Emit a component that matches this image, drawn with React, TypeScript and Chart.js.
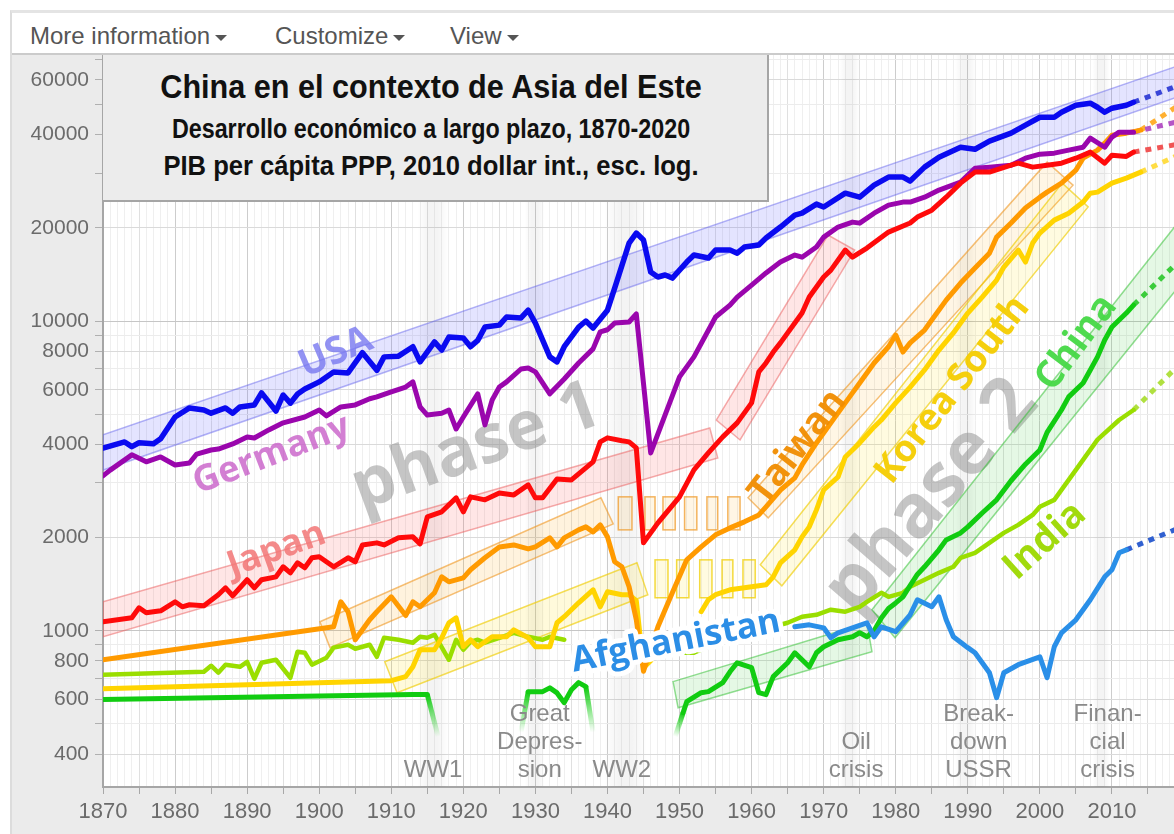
import React, { useEffect, useRef } from 'react';
import { Chart, registerables } from 'chart.js';

Chart.register(...registerables);

type Pt = [number, number | null];

// ---------- axis ticks ----------
const xFirstYear = 1870;
const xLastYear = 2020;
const xTickYears: number[] = [];
for (let y = xFirstYear; y <= xLastYear; y++) xTickYears.push(y);
const xLabelYears = [1870, 1880, 1890, 1900, 1910, 1920, 1930, 1940, 1950, 1960, 1970, 1980, 1990, 2000, 2010];
const yLabeledTicks = [400, 600, 800, 1000, 2000, 4000, 6000, 8000, 10000, 20000, 40000, 60000];
const yMinorTicks = [500, 700, 900, 3000, 5000, 7000, 9000, 30000, 50000, 70000];
const yMin = 313;
const yMax = 72250;

// ---------- series (year, GDP per capita) ----------
const usa: Pt[] = [
  [1870, 3890], [1873, 4070], [1874, 3930], [1875, 4045], [1877, 4015], [1878, 4170], [1880, 4900],
  [1882, 5240], [1884, 5160], [1885, 5040], [1887, 5240], [1888, 5040], [1889, 5280], [1891, 5360],
  [1892, 5860], [1894, 5120], [1895, 5770], [1896, 5430], [1897, 5810], [1898, 6030], [1900, 6360],
  [1902, 6850], [1904, 6800], [1906, 7900], [1908, 6930], [1909, 7660], [1911, 7700], [1913, 8260],
  [1914, 7380], [1916, 8560], [1917, 8060], [1918, 8880], [1920, 8820], [1921, 8260], [1922, 8660],
  [1923, 9560], [1925, 9700], [1926, 10300], [1928, 10230], [1929, 10840], [1930, 9850], [1932, 7660],
  [1933, 7380], [1934, 8260], [1936, 9560], [1937, 10000], [1938, 9490], [1940, 10840], [1941, 12770],
  [1943, 17850], [1944, 19230], [1945, 18250], [1946, 14390], [1947, 13870], [1948, 14080], [1949, 13760],
  [1951, 15500], [1952, 16330], [1954, 15970], [1955, 16950], [1957, 16950], [1958, 16560], [1959, 17330],
  [1961, 17590], [1962, 18530], [1964, 20110], [1966, 21980], [1967, 22290], [1969, 23850], [1970, 23330],
  [1973, 25870], [1975, 25110], [1977, 27460], [1979, 29150], [1981, 29150], [1982, 28300], [1984, 31390],
  [1986, 33790], [1989, 36390], [1991, 35850], [1993, 38080], [1996, 40410], [1998, 42870], [2000, 45490],
  [2002, 45490], [2003, 47220], [2005, 49750], [2007, 50500], [2008, 49000], [2009, 47220], [2010, 48650],
  [2012, 49750], [2013, 50840],
];
const usaExt: Pt[] = [[2013, 50840], [2020, 58500]];

const germany: Pt[] = [
  [1870, 3162], [1871, 3300], [1874, 3697], [1876, 3510], [1878, 3640], [1880, 3430], [1882, 3480],
  [1883, 3720], [1885, 3834], [1886, 3860], [1888, 4010], [1890, 4225], [1891, 4190], [1893, 4450],
  [1895, 4690], [1898, 4900], [1900, 5160], [1901, 4940], [1903, 5280], [1905, 5360], [1907, 5610],
  [1908, 5690], [1910, 5900], [1912, 6120], [1913, 6360], [1914, 5280], [1915, 4970], [1917, 5040],
  [1918, 5160], [1919, 4480], [1920, 4900], [1922, 5820], [1923, 4620], [1924, 5560], [1925, 6120],
  [1926, 6360], [1928, 7000], [1929, 7050], [1930, 6850], [1932, 5820], [1934, 6500], [1936, 7320],
  [1938, 8130], [1939, 9230], [1940, 9370], [1941, 9850], [1943, 9930], [1944, 10540], [1946, 3750],
  [1950, 6600], [1952, 7660], [1955, 10300], [1957, 11260], [1958, 11950], [1960, 13060], [1962, 14300],
  [1964, 15500], [1966, 16330], [1967, 16070], [1969, 17330], [1970, 18660], [1972, 20110], [1974, 20860],
  [1975, 20700], [1977, 22290], [1979, 23670], [1981, 24210], [1982, 24210], [1984, 25110], [1986, 26470],
  [1989, 28080], [1991, 31150], [1993, 31390], [1996, 31850], [1998, 33550], [2000, 34570], [2002, 34830],
  [2004, 35620], [2006, 36390], [2007, 38940], [2009, 36390], [2010, 39230], [2011, 40710], [2013, 40710],
];
const germanyExt: Pt[] = [[2013, 40710], [2020, 44500]];

const japan: Pt[] = [
  [1870, 1069], [1874, 1101], [1875, 1186], [1876, 1143], [1878, 1160], [1880, 1240], [1881, 1195],
  [1882, 1213], [1884, 1204], [1886, 1307], [1887, 1376], [1888, 1297], [1890, 1461], [1891, 1376],
  [1892, 1461], [1894, 1493], [1895, 1609], [1896, 1538], [1897, 1657], [1898, 1597], [1899, 1720],
  [1900, 1733], [1902, 1609], [1904, 1720], [1905, 1670], [1906, 1893], [1908, 1922], [1909, 1893],
  [1911, 1995], [1913, 2010], [1914, 1908], [1915, 2332], [1917, 2421], [1919, 2686], [1920, 2421],
  [1921, 2706], [1923, 2646], [1925, 2786], [1927, 2745], [1929, 2958], [1930, 2686], [1931, 2686],
  [1933, 3092], [1935, 3069], [1937, 3357], [1938, 3510], [1939, 4072], [1940, 4195], [1942, 4105],
  [1943, 4072], [1944, 3892], [1945, 1922], [1947, 2230], [1950, 2706], [1952, 3306], [1954, 3750],
  [1956, 4225], [1958, 4690], [1960, 5440], [1961, 6850], [1962, 7320], [1963, 7940], [1964, 8500],
  [1967, 10610], [1968, 11950], [1970, 13870], [1971, 14600], [1973, 16950], [1974, 16070], [1976, 17200],
  [1979, 19370], [1982, 20720], [1983, 21650], [1985, 22800], [1987, 25110], [1989, 27870], [1991, 30250],
  [1993, 30250], [1996, 31850], [1997, 32330], [1999, 31390], [2001, 31850], [2003, 32330], [2005, 33550],
  [2007, 35100], [2009, 32330], [2010, 34290], [2012, 34000], [2013, 35100],
];
const japanExt: Pt[] = [[2013, 35100], [2020, 37500]];

const taiwan: Pt[] = [
  [1870, 806], [1902, 1030], [1903, 1240], [1904, 1152], [1905, 935], [1907, 1085], [1908, 1152],
  [1910, 1287], [1912, 1120], [1913, 1240], [1914, 1195], [1916, 1326], [1917, 1493], [1918, 1439],
  [1920, 1482], [1921, 1574], [1923, 1720], [1925, 1865], [1927, 1893], [1929, 1838], [1930, 1865],
  [1932, 1995], [1933, 1865], [1934, 1995], [1936, 2117], [1937, 2165], [1938, 2086], [1939, 2197],
  [1940, 2010], [1941, 1670], [1942, 1609], [1943, 1387], [1944, 1085], [1945, 740], [1947, 1030],
  [1949, 1326], [1951, 1694], [1953, 1865], [1955, 2040], [1957, 2148], [1959, 2247], [1961, 2366],
  [1962, 2512], [1964, 2847], [1966, 3115], [1967, 3430], [1969, 4040], [1971, 4690], [1974, 5860],
  [1975, 6310], [1977, 7320], [1979, 8260], [1980, 9010], [1981, 7940], [1982, 8500], [1984, 9350],
  [1985, 10070], [1987, 11680], [1989, 13260], [1991, 14830], [1993, 16560], [1994, 18660], [1996, 20720],
  [1998, 23150], [2000, 25110], [2001, 26070], [2003, 27870], [2005, 30700], [2006, 33550], [2008, 35620],
  [2009, 37530], [2010, 39810], [2012, 40410], [2014, 41320],
];
const taiwanExt: Pt[] = [[2014, 41320], [2020, 51000]];

const korea: Pt[] = [
  [1870, 650], [1910, 690], [1912, 711], [1913, 765], [1914, 868], [1916, 868], [1917, 949], [1918, 1061],
  [1919, 1101], [1920, 888], [1921, 935], [1922, 888], [1924, 956], [1926, 956], [1927, 1007], [1929, 949],
  [1930, 888], [1932, 888], [1933, 1061], [1934, 1110], [1936, 1231], [1938, 1356], [1939, 1195],
  [1940, 1336], [1942, 1307], [1943, 1307], [1944, 1250], [1945, 760], [1946, 800], [1947, null],
  [1953, 1152], [1954, 1259], [1955, 1307], [1957, 1356], [1960, 1387], [1962, 1407], [1963, 1493],
  [1964, 1657], [1966, 1825], [1967, 2010], [1968, 2165], [1969, 2456], [1970, 2847], [1972, 3138],
  [1973, 3640], [1975, 4040], [1977, 4550], [1978, 4790], [1980, 5440], [1982, 6120], [1984, 6950],
  [1986, 8060], [1988, 9150], [1990, 10610], [1992, 11950], [1994, 13560], [1995, 14940], [1997, 16950],
  [1998, 15500], [1999, 17850], [2000, 19230], [2002, 21170], [2004, 22290], [2006, 24210], [2007, 25870],
  [2008, 26070], [2010, 27870], [2012, 28930], [2014, 30250],
];
const koreaExt: Pt[] = [[2014, 30250], [2020, 35000]];

const india: Pt[] = [
  [1870, 721], [1884, 737], [1885, 771], [1886, 732], [1887, 777], [1889, 765], [1890, 794], [1891, 700],
  [1892, 788], [1894, 806], [1896, 705], [1897, 856], [1898, 849], [1899, 777], [1901, 818], [1902, 882],
  [1904, 901], [1905, 875], [1907, 901], [1908, 824], [1909, 949], [1911, 935], [1913, 915], [1914, 956],
  [1915, 949], [1916, 971], [1918, 806], [1919, 935], [1920, 868], [1921, 922], [1922, 935], [1923, 915],
  [1925, 949], [1927, 985], [1929, 956], [1931, 935], [1932, 956], [1934, 935], [1935, null],
  [1950, 849], [1952, 849], [1955, 910], [1958, 960], [1961, 1000], [1963, 1030],
  [1965, 1061], [1967, 1110], [1969, 1126], [1971, 1169], [1973, 1152], [1975, 1195], [1976, 1240],
  [1978, 1326], [1979, 1287], [1981, 1326], [1982, 1387], [1984, 1461], [1986, 1538], [1988, 1609],
  [1989, 1720], [1991, 1785], [1993, 1922], [1995, 2070], [1997, 2197], [1999, 2366], [2000, 2512],
  [2002, 2646], [2005, 3306], [2008, 4140], [2011, 4790], [2013, 5160],
];
const indiaExt: Pt[] = [[2013, 5160], [2020, 7500]];

const china1: Pt[] = [[1870, 600], [1913, 622], [1915, 622]];
const chinaFadeOut1: Pt[] = [[1915, 622], [1916.5, 455]];
const chinaFadeIn2: Pt[] = [[1928, 470], [1929, 636]];
const china2: Pt[] = [
  [1929, 636], [1931, 636], [1932, 654], [1933, 630], [1934, 586], [1935, 645], [1936, 680], [1937, 660],
];
const chinaFadeOut2: Pt[] = [[1937, 660], [1938, 470]];
const chinaFadeIn3: Pt[] = [[1949.4, 455], [1950.5, 544]];
const china3: Pt[] = [
  [1950.5, 544], [1951, 590], [1953, 631], [1954, 636], [1956, 680], [1957, 737], [1958, 788], [1960, 760],
  [1961, 631], [1962, 622], [1963, 711], [1965, 788], [1966, 849], [1968, 765], [1969, 849], [1970, 888],
  [1972, 935], [1974, 956], [1975, 985], [1976, 956], [1977, 1000], [1978, 1100], [1979, 1180], [1980, 1230],
  [1981, 1287], [1982, 1400], [1983, 1520], [1984, 1609], [1986, 1825], [1987, 1965], [1989, 2070],
  [1990, 2165], [1992, 2400], [1994, 2646], [1996, 3050], [1998, 3450], [2000, 3834], [2001, 4370],
  [2003, 5160], [2004, 5690], [2006, 6310], [2007, 6950], [2008, 7660], [2009, 8690], [2010, 9560],
  [2012, 10610], [2013, 11260],
];
const chinaExt: Pt[] = [[2013, 11260], [2020, 16200]];

const afghanistan: Pt[] = [
  [1966, 1030], [1968, 1045], [1970, 1022], [1971, 949], [1972, 985], [1974, 1022], [1976, 1061],
  [1977, 956], [1978, 1030], [1980, 993], [1982, 1126], [1983, 1259], [1985, 1195], [1986, 1287],
  [1987, 1085], [1988, 956], [1990, 882], [1991, 849], [1993, 732], [1994, 608], [1995, 732], [1997, 777],
  [2000, 824], [2001, 705], [2002, 888], [2003, 985], [2005, 1085], [2006, 1169], [2007, 1259], [2009, 1493],
  [2010, 1574], [2011, 1785], [2012, 1825],
];
const afghanistanExt: Pt[] = [[2012, 1825], [2020, 2180]];

// ---------- trend bands (corners: year, value) ----------
const usaBand: Pt[] = [[1870, 4290], [2020, 67700], [2020, 53800], [1870, 3300]];
const japanBand1: Pt[] = [[1870, 1240], [1954.2, 4515], [1955.3, 3614], [1870, 956]];
const japanBand2: Pt[] = [[1955.1, 4790], [1970.6, 18940], [1974.3, 16950], [1958.4, 4130]];
const taiwanBand1: Pt[] = [[1900.1, 1069], [1939.1, 2686], [1940.8, 2214], [1901.5, 882]];
const koreaBand1: Pt[] = [[1909.1, 794], [1944.1, 1657], [1945.6, 1307], [1910.8, 631]];
const taiwanBand2: Pt[] = [[1959.5, 2686], [2001, 32580], [2004.6, 27460], [1962.3, 2314]];
const koreaBand2: Pt[] = [[1961.2, 1633], [2003.1, 27870], [2006.7, 23360], [1964.2, 1397]];
const chinaBand1: Pt[] = [[1949.1, 685], [1976, 1061], [1976.7, 856], [1949.8, 564]];
const chinaBand2: Pt[] = [[1976.7, 1169], [2020, 21980], [2020, 13560], [1979.9, 949]];

// gaps drawn as small boxes: [startYear, endYear]
const taiwanGapYears: Pt[] = [[1941.5, 1943.4], [1945.2, 1946.6], [1947.7, 1949.4], [1950.7, 1952.4], [1953.8, 1955.3], [1956.7, 1958.4]];
const taiwanGapRange: Pt = [2117, 2706];
const koreaGapYears: Pt[] = [[1946.6, 1948.4], [1949.6, 1951.3], [1952.8, 1954.5], [1955.9, 1957.4], [1958.8, 1960.5]];
const koreaGapRange: Pt = [1278, 1694];

// ---------- events ----------
const eventPeriods: Pt[] = [[1913.6, 1918], [1928.5, 1931.3], [1939.5, 1945.5], [1972.2, 1975], [1988.2, 1991.2], [2007.3, 2009.7]];
const eventNames: string[][] = [['WW1'], ['Great', 'Depres-', 'sion'], ['WW2'], ['Oil', 'crisis'], ['Break-', 'down', 'USSR'], ['Finan-', 'cial', 'crisis']];
const eventLabelYears = [1915.8, 1930.6, 1942, 1974.5, 1991.5, 2009.4];
const eventLabelBaseValue = 355;

// ---------- labels ----------
const countryLabels = [
  { text: 'USA', year: 1902.3, value: 7900, angle: -23, size: 38, color: 'rgba(120,120,240,0.8)' },
  { text: 'Germany', year: 1893.4, value: 3697, angle: -21, size: 36, color: 'rgba(200,95,200,0.8)' },
  { text: 'Japan', year: 1894.1, value: 1825, angle: -20, size: 36, color: 'rgba(242,118,118,0.85)' },
  { text: 'Taiwan', year: 1966.4, value: 3920, angle: -52, size: 37, color: 'rgba(240,140,0,0.95)' },
  { text: 'Korea South', year: 1987.9, value: 5990, angle: -52, size: 37, color: 'rgba(244,204,0,0.95)' },
  { text: 'China', year: 2005.1, value: 8510, angle: -53, size: 38, color: 'rgba(70,216,70,0.95)' },
  { text: 'India', year: 2000.7, value: 1950, angle: -42, size: 38, color: 'rgba(156,216,0,0.95)' },
  { text: 'Afghanistan', year: 1949.5, value: 922, angle: -11, size: 35, color: '#2c8ee6', halo: true },
];
const phaseLabels = [
  { text: 'phase 1', year: 1921.8, value: 3890, angle: -20, size: 68 },
  { text: 'phase 2', year: 1985, value: 2706, angle: -49, size: 74 },
];

const menuItems: [string, number][] = [['More information', 30], ['Customize', 275], ['View', 450]];
const titleLines = ['China en el contexto de Asia del Este', 'Desarrollo económico a largo plazo, 1870-2020', 'PIB per cápita PPP, 2010 dollar int., esc. log.'];

const labelFont = '"Open Sans", "Noto Sans", sans-serif';
const axisFont = '"Liberation Sans", Arial, sans-serif';

export default function App() {
  const canvasRef = useRef<HTMLCanvasElement>(null);
  const titleRefs = [useRef<HTMLDivElement>(null), useRef<HTMLDivElement>(null), useRef<HTMLDivElement>(null)];

  useEffect(() => {
    document.body.style.margin = '0';
    const targets = [541, 518, 535];
    titleRefs.forEach((r, i) => {
      const el = r.current;
      if (el) {
        const w = el.offsetWidth;
        el.style.transform = `translateX(-50%) scaleX(${targets[i] / w})`;
      }
    });

    const canvas = canvasRef.current!;
    const c2d = canvas.getContext('2d')!;
    const toXY = (a: Pt[]) => a.map(([x, y]) => ({ x, y }));

    const line = (data: Pt[], color: string, width = 5, extra: any = {}) => ({
      data: toXY(data), borderColor: color, borderWidth: width, pointRadius: 0, pointHoverRadius: 0,
      tension: 0, fill: false, spanGaps: false, borderJoinStyle: 'round', borderCapStyle: 'round', ...extra,
    });
    const dotted = (data: Pt[], color: string) => line(data, color, 5, { borderDash: [6, 6], borderCapStyle: 'butt' });
    const fade = (data: Pt[], rgb: string, dir: 'in' | 'out') => line(data, `rgb(${rgb})`, 5, {
      borderCapStyle: 'butt',
      segment: {
        borderColor: (c: any) => {
          const { p0, p1 } = c;
          if (!isFinite(p0.x) || !isFinite(p1.x) || !isFinite(p0.y) || !isFinite(p1.y)) return `rgb(${rgb})`;
          const g = c2d.createLinearGradient(p0.x, p0.y, p1.x, p1.y);
          g.addColorStop(0, `rgba(${rgb},${dir === 'out' ? 1 : 0})`);
          g.addColorStop(1, `rgba(${rgb},${dir === 'out' ? 0 : 1})`);
          return g;
        },
      },
    });

    const chinaRgb = '17,204,17';
    const datasets: any[] = [
      line(japan, '#ff0a0a'),
      line(usa, '#0a0af0', 5.5),
      line(germany, '#9a06ad'),
      line(afghanistan, '#2a8fe8'),
      line(china1, `rgb(${chinaRgb})`),
      fade(chinaFadeOut1, chinaRgb, 'out'),
      fade(chinaFadeIn2, chinaRgb, 'in'),
      line(china2, `rgb(${chinaRgb})`),
      fade(chinaFadeOut2, chinaRgb, 'out'),
      fade(chinaFadeIn3, chinaRgb, 'in'),
      line(china3, `rgb(${chinaRgb})`),
      line(taiwan, '#ff9a00'),
      line(korea, '#ffd400'),
      line(india, '#9ade00', 4.5),
      dotted(usaExt, '#3a46d8'),
      dotted(germanyExt, '#b555c5'),
      dotted(japanExt, '#f05555'),
      dotted(taiwanExt, '#ffb030'),
      dotted(koreaExt, '#ffdd44'),
      dotted(chinaExt, '#3ccc3c'),
      dotted(indiaExt, '#b0e040'),
      dotted(afghanistanExt, '#3060d0'),
    ];

    const bandDefs: { pts: Pt[]; fill: string; stroke: string }[] = [
      { pts: usaBand, fill: 'rgba(95,95,255,0.17)', stroke: 'rgba(90,90,235,0.45)' },
      { pts: japanBand1, fill: 'rgba(255,90,90,0.15)', stroke: 'rgba(235,90,90,0.5)' },
      { pts: japanBand2, fill: 'rgba(255,90,90,0.15)', stroke: 'rgba(235,90,90,0.5)' },
      { pts: taiwanBand1, fill: 'rgba(255,165,0,0.13)', stroke: 'rgba(240,150,30,0.6)' },
      { pts: koreaBand1, fill: 'rgba(255,220,0,0.14)', stroke: 'rgba(240,205,0,0.65)' },
      { pts: taiwanBand2, fill: 'rgba(255,165,0,0.10)', stroke: 'rgba(240,150,30,0.6)' },
      { pts: koreaBand2, fill: 'rgba(255,220,0,0.12)', stroke: 'rgba(240,205,0,0.65)' },
      { pts: chinaBand1, fill: 'rgba(40,200,40,0.12)', stroke: 'rgba(40,190,40,0.5)' },
      { pts: chinaBand2, fill: 'rgba(40,200,40,0.12)', stroke: 'rgba(40,190,40,0.5)' },
    ];

    const rotText = (ctx: CanvasRenderingContext2D, text: string, x: number, y: number, angle: number, font: string, color: string, halo = false) => {
      ctx.save();
      ctx.translate(x, y);
      ctx.rotate((angle * Math.PI) / 180);
      ctx.font = font;
      ctx.textAlign = 'center';
      ctx.textBaseline = 'middle';
      if (halo) {
        ctx.lineWidth = 10;
        ctx.lineJoin = 'round';
        ctx.strokeStyle = '#ffffff';
        ctx.strokeText(text, 0, 0);
      }
      ctx.fillStyle = color;
      ctx.fillText(text, 0, 0);
      ctx.restore();
    };

    const overlay = {
      id: 'overlay',
      beforeDraw(chart: any) {
        const { ctx, chartArea: a } = chart;
        ctx.save();
        ctx.fillStyle = '#ffffff';
        ctx.fillRect(a.left, a.top, a.right - a.left, a.bottom - a.top);
        ctx.restore();
      },
      beforeDatasetsDraw(chart: any) {
        const { ctx, chartArea: a, scales } = chart;
        const X = (v: number) => scales.x.getPixelForValue(v);
        const Y = (v: number) => scales.y.getPixelForValue(v);
        ctx.save();
        ctx.beginPath();
        ctx.rect(a.left, a.top, a.right - a.left, a.bottom - a.top);
        ctx.clip();
        // event shading
        eventPeriods.forEach(([s, e]) => {
          const x0 = X(s), x1 = X(e as number);
          const g = ctx.createLinearGradient(x0, 0, x1, 0);
          g.addColorStop(0, 'rgba(0,0,0,0)');
          g.addColorStop(0.35, 'rgba(0,0,0,0.045)');
          g.addColorStop(0.65, 'rgba(0,0,0,0.045)');
          g.addColorStop(1, 'rgba(0,0,0,0)');
          ctx.fillStyle = g;
          ctx.fillRect(x0, a.top, x1 - x0, a.bottom - a.top);
        });
        // phase labels
        phaseLabels.forEach((p) => rotText(ctx, p.text, X(p.year), Y(p.value), p.angle, `bold ${p.size}px ${labelFont}`, 'rgba(150,150,150,0.55)'));
        // bands
        bandDefs.forEach((b) => {
          ctx.beginPath();
          b.pts.forEach(([yr, v], i) => {
            const px = X(yr), py = Y(v as number);
            if (i === 0) ctx.moveTo(px, py); else ctx.lineTo(px, py);
          });
          ctx.closePath();
          ctx.fillStyle = b.fill;
          ctx.fill();
          ctx.lineWidth = 1.5;
          ctx.strokeStyle = b.stroke;
          ctx.stroke();
        });
        // gap boxes
        const boxes = (years: Pt[], range: Pt, fill: string, stroke: string) => {
          years.forEach(([s, e]) => {
            const x0 = X(s), x1 = X(e as number);
            const y0 = Y(range[1] as number), y1 = Y(range[0] as number);
            ctx.fillStyle = fill;
            ctx.fillRect(x0, y0, x1 - x0, y1 - y0);
            ctx.lineWidth = 1.5;
            ctx.strokeStyle = stroke;
            ctx.strokeRect(x0, y0, x1 - x0, y1 - y0);
          });
        };
        boxes(taiwanGapYears, taiwanGapRange, 'rgba(255,170,0,0.10)', 'rgba(240,150,30,0.7)');
        boxes(koreaGapYears, koreaGapRange, 'rgba(255,220,0,0.12)', 'rgba(240,205,0,0.75)');
        ctx.restore();
      },
      afterDatasetsDraw(chart: any) {
        const { ctx, chartArea: a, scales } = chart;
        const X = (v: number) => scales.x.getPixelForValue(v);
        const Y = (v: number) => scales.y.getPixelForValue(v);
        ctx.save();
        ctx.beginPath();
        ctx.rect(a.left, a.top, a.right - a.left, a.bottom - a.top);
        ctx.clip();
        countryLabels.forEach((l) => rotText(ctx, l.text, X(l.year), Y(l.value), l.angle, `bold ${l.size}px ${labelFont}`, l.color, !!l.halo));
        ctx.font = `24px ${axisFont}`;
        ctx.fillStyle = '#8a8a8a';
        ctx.textAlign = 'center';
        ctx.textBaseline = 'middle';
        eventNames.forEach((lines, i) => {
          const x = X(eventLabelYears[i]);
          const yb = Y(eventLabelBaseValue);
          lines.forEach((t, j) => ctx.fillText(t, x, yb - (lines.length - 1 - j) * 28));
        });
        ctx.restore();
      },
    };

    const labeled = new Set(yLabeledTicks);
    const xLabeled = new Set(xLabelYears);
    const chart = new Chart(canvas, {
      type: 'line',
      data: { datasets },
      plugins: [overlay],
      options: {
        animation: false,
        responsive: false,
        maintainAspectRatio: false,
        devicePixelRatio: 1,
        layout: { padding: { left: 0, right: 28, top: 0, bottom: 0 } },
        plugins: { legend: { display: false }, tooltip: { enabled: false }, title: { display: false } },
        scales: {
          x: {
            type: 'linear',
            min: xFirstYear,
            max: xLastYear,
            afterBuildTicks: (s: any) => { s.ticks = xTickYears.map((v) => ({ value: v })); },
            afterFit: (s: any) => { s.height = 47; s.paddingLeft = 0; s.paddingRight = 0; },
            ticks: {
              autoSkip: false, maxRotation: 0, minRotation: 0, padding: 5,
              color: '#6b6b6b', font: { size: 22, family: axisFont },
              callback: (v: any) => (xLabeled.has(Number(v)) ? String(v) : ''),
            },
            grid: {
              drawTicks: true, tickLength: 7,
              color: (c: any) => { const v = c.tick?.value; return v % 10 === 0 ? '#cdcdcd' : v % 5 === 0 ? '#e0e0e0' : '#efefef'; },
              tickColor: (c: any) => { const v = c.tick?.value; return v % 5 === 0 ? '#a8a8a8' : 'rgba(0,0,0,0)'; },
              lineWidth: 1,
            },
            border: { display: true, color: '#a6a6a6', width: 2 },
          },
          y: {
            type: 'logarithmic',
            min: yMin,
            max: yMax,
            afterBuildTicks: (s: any) => {
              const all = [...yLabeledTicks, ...yMinorTicks].filter((v) => v >= yMin && v <= yMax).sort((p, q) => p - q);
              s.ticks = all.map((v) => ({ value: v }));
            },
            afterFit: (s: any) => { s.width = 91; s.paddingTop = 0; s.paddingBottom = 0; },
            ticks: {
              autoSkip: false, padding: 6,
              color: '#6b6b6b', font: { size: 21, family: axisFont },
              callback: (v: any) => (labeled.has(Number(v)) ? String(v) : ''),
            },
            grid: {
              drawTicks: true, tickLength: 8,
              color: (c: any) => { const v = c.tick?.value; return v === 1000 || v === 10000 ? '#c6c6c6' : labeled.has(v) ? '#dadada' : '#ececec'; },
              tickColor: '#b0b0b0',
              lineWidth: 1,
            },
            border: { display: true, color: '#a6a6a6', width: 2 },
          },
        },
      } as any,
    });

    return () => chart.destroy();
  }, []);

  return (
    <div style={{ position: 'fixed', left: 0, top: 0, width: 1174, height: 834, overflow: 'hidden', background: '#ffffff', fontFamily: axisFont }}>
      <div style={{ position: 'absolute', left: 10, top: 10, width: 1200, height: 830, background: '#ebebeb', borderLeft: '2px solid #dcdcdc', borderTop: '3px solid #e4e4e4', boxSizing: 'border-box' }} />
      <div style={{ position: 'absolute', left: 12, top: 13, width: 1200, height: 40, background: '#ffffff', borderBottom: '2px solid #cbcbcb' }} />
      {menuItems.map(([label, left]) => (
        <div key={label} style={{ position: 'absolute', left, top: 24, fontSize: 24, lineHeight: '24px', color: '#555555', whiteSpace: 'nowrap' }}>
          {label}
          <span style={{ display: 'inline-block', marginLeft: 5, verticalAlign: 'middle', width: 0, height: 0, borderLeft: '6px solid transparent', borderRight: '6px solid transparent', borderTop: '6px solid #555555' }} />
        </div>
      ))}
      <canvas ref={canvasRef} width={1200} height={779} style={{ position: 'absolute', left: 12, top: 55, width: 1200, height: 779, background: '#ebebeb' }} />
      <div style={{ position: 'absolute', left: 103, top: 55, width: 666, height: 147, background: '#ececec', borderRight: '2px solid #a5a5a5', borderBottom: '2px solid #a5a5a5', boxSizing: 'border-box' }}>
        {titleLines.map((t, i) => (
          <div
            key={i}
            ref={titleRefs[i]}
            style={{
              position: 'absolute', left: 328, top: [14, 61, 97][i], fontSize: [34, 27, 28][i], lineHeight: 1,
              fontWeight: 'bold', color: '#111111', whiteSpace: 'nowrap', transform: 'translateX(-50%)',
              fontFamily: '"Liberation Sans Narrow", "Arial Narrow", "Liberation Sans", Arial, sans-serif',
            }}
          >
            {t}
          </div>
        ))}
      </div>
    </div>
  );
}
